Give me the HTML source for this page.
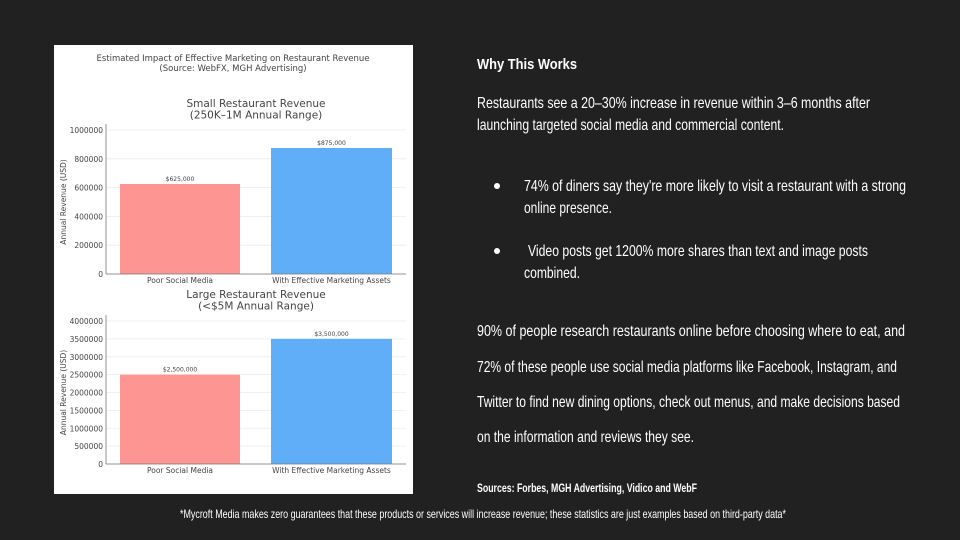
<!DOCTYPE html>
<html><head><meta charset="utf-8"><style>
html,body{margin:0;padding:0;background:#212121;}
svg{display:block}
.t{font-family:"Liberation Sans Narrow","Liberation Sans",sans-serif;fill:#fff}
.c{font-family:"DejaVu Sans","Liberation Sans",sans-serif;fill:#444}
</style></head><body>
<svg id="s" width="960" height="540" viewBox="0 0 960 540" xmlns="http://www.w3.org/2000/svg">
<rect width="960" height="540" fill="#212121"/>
<rect x="54" y="45" width="359" height="449" fill="#fff"/>
<text class="c" x="233" y="61" font-size="8.5" text-anchor="middle">Estimated Impact of Effective Marketing on Restaurant Revenue</text>
<text class="c" x="233" y="71" font-size="8.5" text-anchor="middle">(Source: WebFX, MGH Advertising)</text>
<g id="charts"></g>

<text class="t" x="477" y="69" font-size="15" font-weight="bold" textLength="100" lengthAdjust="spacingAndGlyphs">Why This Works</text>
<text class="t" x="477" y="108" font-size="16" textLength="393" lengthAdjust="spacingAndGlyphs">Restaurants see a 20–30% increase in revenue within 3–6 months after</text>
<text class="t" x="477" y="130" font-size="16" textLength="307" lengthAdjust="spacingAndGlyphs">launching targeted social media and commercial content.</text>
<circle cx="497" cy="186" r="3" fill="#fff"/>
<text class="t" x="524" y="191" font-size="16" textLength="382" lengthAdjust="spacingAndGlyphs">74% of diners say they're more likely to visit a restaurant with a strong</text>
<text class="t" x="524" y="213" font-size="16" textLength="88" lengthAdjust="spacingAndGlyphs">online presence.</text>
<circle cx="497" cy="251" r="3" fill="#fff"/>
<text class="t" x="528" y="256" font-size="16" textLength="340" lengthAdjust="spacingAndGlyphs">Video posts get 1200% more shares than text and image posts</text>
<text class="t" x="524" y="278" font-size="16" textLength="56" lengthAdjust="spacingAndGlyphs">combined.</text>
<text class="t" x="477" y="336" font-size="16" textLength="428" lengthAdjust="spacingAndGlyphs">90% of people research restaurants online before choosing where to eat, and</text>
<text class="t" x="477" y="372" font-size="16" textLength="420" lengthAdjust="spacingAndGlyphs">72% of these people use social media platforms like Facebook, Instagram, and</text>
<text class="t" x="477" y="407" font-size="16" textLength="423" lengthAdjust="spacingAndGlyphs">Twitter to find new dining options, check out menus, and make decisions based</text>
<text class="t" x="477" y="442" font-size="16" textLength="217" lengthAdjust="spacingAndGlyphs">on the information and reviews they see.</text>
<text class="t" x="477" y="492" font-size="12" font-weight="bold" textLength="220" lengthAdjust="spacingAndGlyphs">Sources: Forbes, MGH Advertising, Vidico and WebF</text>
<text class="t" x="180" y="518" font-size="12" textLength="606" lengthAdjust="spacingAndGlyphs">*Mycroft Media makes zero guarantees that these products or services will increase revenue; these statistics are just examples based on third-party data*</text>
</svg>
<script>
const categories = ["Poor Social Media", "With Effective Marketing Assets"];
const smallValues = [625000, 875000];
const smallLabels = ["$625,000", "$875,000"];
const smallTicks = [0, 200000, 400000, 600000, 800000, 1000000];
const largeValues = [2500000, 3500000];
const largeLabels = ["$2,500,000", "$3,500,000"];
const largeTicks = [0, 500000, 1000000, 1500000, 2000000, 2500000, 3000000, 3500000, 4000000];
const NS = "http://www.w3.org/2000/svg";
const g = document.getElementById("charts");
function mk(tag, attrs, parent, text){
  const e = document.createElementNS(NS, tag);
  for (const k in attrs) e.setAttribute(k, attrs[k]);
  if (text !== undefined) e.textContent = text;
  parent.appendChild(e);
  return e;
}
function drawChart(cfg, values, labels, ticks){
  const grp = mk("g", {}, g);
  
  
  const y = v => cfg.y0 - (v / cfg.vmax) * (cfg.y0 - cfg.ytop);
  const x0 = 106, x1 = 406;
  const t1 = mk("text", {x:256, y:cfg.titleY, "font-size":10.5, "text-anchor":"middle", class:"c"}, grp, cfg.title1);
  
  
  const t2 = mk("text", {x:256, y:cfg.titleY+11.5, "font-size":10.5, "text-anchor":"middle", class:"c"}, grp, cfg.title2);
  
  
  ticks.forEach(t => {
    const yy = y(t);
    const gl = mk("line", {x1:x0, x2:x1, y1:yy, y2:yy, stroke:"#ececec", "stroke-width":0.8}, grp);
    
    
    const tl = mk("text", {x:x0-3, y:yy+3, "font-size":7.5, "text-anchor":"end", class:"c"}, grp, String(t));
    
    
  });
  const bx = [[120, 240], [271, 392]];
  values.forEach((v, i) => {
    const r = mk("rect", {x:bx[i][0], y:y(v), width:bx[i][1]-bx[i][0], height:cfg.y0 - y(v), fill: i ? "#61aef8" : "#fd9593"}, grp);
    
    
    const lb = mk("text", {x:(bx[i][0]+bx[i][1])/2, y:y(v)-3, "font-size":6, "text-anchor":"middle", class:"c"}, grp, labels[i]);
    
    
    const cl = mk("text", {x:(bx[i][0]+bx[i][1])/2, y:cfg.y0+9, "font-size":7.5, "text-anchor":"middle", class:"c"}, grp, categories[i]);
    
    
  });
  const ax = mk("line", {x1:x0, x2:x0, y1:cfg.ytop-6, y2:cfg.y0, stroke:"#777", "stroke-width":0.8}, grp);
  
  
  const bx2 = mk("line", {x1:x0, x2:x1, y1:cfg.y0, y2:cfg.y0, stroke:"#777", "stroke-width":0.8}, grp);
  
  
  const yt = mk("text", {x:0, y:0, "font-size":7.5, "text-anchor":"middle", class:"c", transform:"translate(66," + ((cfg.y0+cfg.ytop)/2) + ") rotate(-90)"}, grp, "Annual Revenue (USD)");
  
  
}
drawChart({name:"small-restaurant-chart", y0:274, ytop:130, vmax:1000000, titleY:107, title1:"Small Restaurant Revenue", title2:"(250K–1M Annual Range)"}, smallValues, smallLabels, smallTicks);
drawChart({name:"large-restaurant-chart", y0:464, ytop:321, vmax:4000000, titleY:298, title1:"Large Restaurant Revenue", title2:"(<$5M Annual Range)"}, largeValues, largeLabels, largeTicks);
</script>
</body></html>
